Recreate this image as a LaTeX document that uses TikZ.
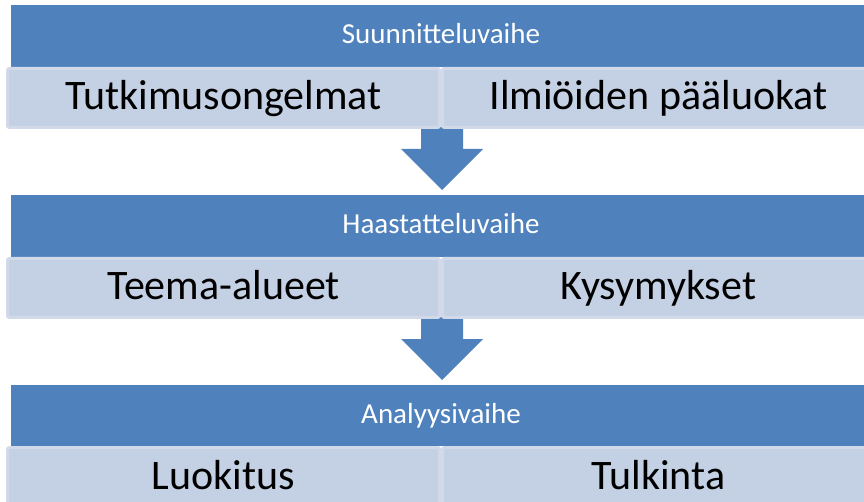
\documentclass[tikz,border=0pt]{standalone}
\usepackage{fontspec}
\setmainfont{Carlito}
\definecolor{hdr}{HTML}{4F81BD}
\definecolor{cell}{HTML}{C4D0E4}
\definecolor{cellborder}{HTML}{D2DAEA}
\begin{document}
\begin{tikzpicture}[x=1pt,y=-1pt,
  header/.style={fill=hdr, draw=none, minimum width=860pt, minimum height=62pt,
    inner sep=0pt, outer sep=0pt, text=white,
    font=\fontsize{29}{34}\selectfont, text height=18pt, text depth=2pt},
  cellbox/.style={fill=cell, draw=cellborder, line width=3pt, rounded corners=2pt,
    minimum width=432pt, minimum height=59pt, inner sep=0pt, outer sep=0pt,
    font=\fontsize{42}{50}\selectfont, text height=27pt, text depth=3pt},
  downarrow/.pic={\fill[hdr] (-21,0) -- (-21,22) -- (-41,22) -- (0,63) -- (41,22) -- (21,22) -- (21,0) -- cycle;}
]
\clip (0,0) rectangle (864,502);
\fill[white] (0,0) rectangle (864,502);

% arrows (drawn first, under the cells)
\coordinate (a1) at (442,127);
\coordinate (a2) at (442,317);
\pic at (a1) {downarrow};
\pic at (a2) {downarrow};

% phase 1
\node[header] (h1) at (441,36) {Suunnitteluvaihe};
\node[cellbox] (c1l) at (223.5,98) {Tutkimusongelmat};
\node[cellbox] (c1r) at (658.5,98) {Ilmiöiden pääluokat};

% phase 2
\node[header] (h2) at (441,226) {Haastatteluvaihe};
\node[cellbox] (c2l) at (223.5,288) {Teema-alueet};
\node[cellbox] (c2r) at (658.5,288) {Kysymykset};

% phase 3
\node[header, minimum height=61pt] (h3) at (441,415.5) {Analyysivaihe};
\node[cellbox] (c3l) at (223.5,477) {Luokitus};
\node[cellbox] (c3r) at (658.5,477) {Tulkinta};
\end{tikzpicture}
\end{document}
